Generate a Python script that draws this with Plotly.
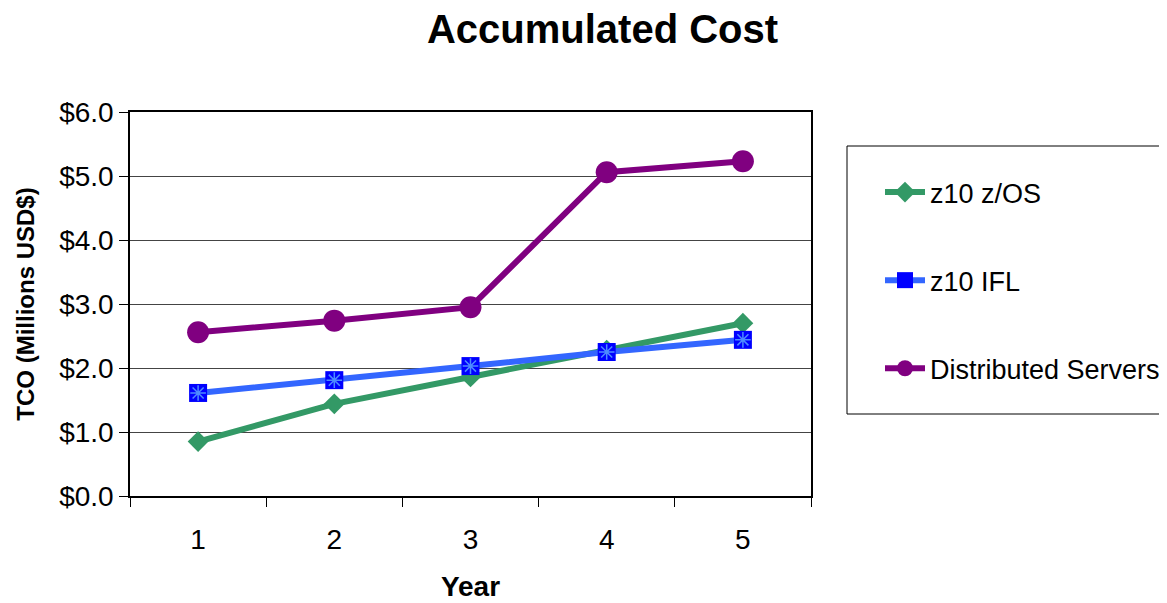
import plotly.graph_objects as go

years = ["1", "2", "3", "4", "5"]
zos = [0.85, 1.44, 1.86, 2.28, 2.70]
ifl = [1.61, 1.81, 2.03, 2.25, 2.44]
dist = [2.56, 2.74, 2.95, 5.06, 5.23]
y_ticks = [0, 1, 2, 3, 4, 5, 6]
y_labels = ["$%.1f" % v for v in y_ticks]

FONT = "Liberation Sans, Arial, sans-serif"
OFF = 8  # page body offset

L, R, T, B = 130, 811, 112, 496
PW, PH = R - L, B - T

fig = go.Figure()
fig.add_trace(go.Scatter(x=years, y=zos, name="z10 z/OS", mode="lines+markers",
                         legendgroup="a",
                         line=dict(color="#339966", width=6),
                         marker=dict(symbol="diamond", size=16, color="#339966")))
fig.add_trace(go.Scatter(x=years, y=ifl, name="z10 IFL", mode="lines+markers",
                         legendgroup="b",
                         line=dict(color="#3366FF", width=6),
                         marker=dict(symbol="square", size=18, color="#0000FF")))
fig.add_trace(go.Scatter(x=years, y=ifl, showlegend=False, mode="markers", hoverinfo="skip",
                         legendgroup="b",
                         marker=dict(symbol="asterisk-open", size=13, color="#4D8BFF",
                                     line=dict(color="#4D8BFF", width=1.5))))
fig.add_trace(go.Scatter(x=years, y=dist, name="Distributed Servers", mode="lines+markers",
                         legendgroup="c",
                         line=dict(color="#800080", width=6),
                         marker=dict(symbol="circle", size=22, color="#800080")))

fig.add_shape(type="rect", xref="paper", yref="paper",
              x0=(847 - L) / PW, x1=(1185 - L) / PW,
              y0=(B - 414) / PH, y1=(B - 146) / PH,
              line=dict(color="black", width=1), fillcolor="white", layer="below")

fig.update_layout(
    width=1167, height=603,
    paper_bgcolor="white", plot_bgcolor="white",
    margin=dict(l=L - OFF, r=1167 - R + OFF, t=T - OFF, b=603 - B + OFF, autoexpand=False),
    title=dict(text="<b>Accumulated Cost</b>", x=((427 + 778) / 2 - OFF) / 1167, xanchor="center",
               y=1 - (29 - OFF) / 603, yanchor="middle",
               font=dict(family=FONT, size=40, color="black")),
    font=dict(family=FONT, color="black"),
    legend=dict(x=(880 - L) / PW, xanchor="left",
                y=(B - 168) / PH, yanchor="top",
                bgcolor="rgba(0,0,0,0)", borderwidth=0,
                font=dict(family=FONT, size=27, color="black"),
                tracegroupgap=50, itemwidth=40),
    showlegend=True,
)
fig.update_xaxes(type="category", range=[-0.5, 4.5], showline=True, linecolor="black", linewidth=1.5,
                 mirror=True, ticks="outside", tickson="boundaries", ticklen=9, tickcolor="black",
                 showgrid=False, tickfont=dict(family=FONT, size=28, color="black"),
                 ticklabelstandoff=18,
                 title=dict(text="<b>Year</b>", font=dict(family=FONT, size=28, color="black"),
                            standoff=22))
fig.update_yaxes(range=[0, 6], tickvals=y_ticks, ticktext=y_labels, showline=True,
                 linecolor="black", linewidth=1.5, mirror=True, ticks="outside", ticklen=9,
                 tickcolor="black", showgrid=True, gridcolor="#444444", gridwidth=1,
                 zeroline=False, tickfont=dict(family=FONT, size=28, color="black"),
                 title=dict(text="<b>TCO (Millions USD$)</b>",
                            font=dict(family=FONT, size=24, color="black"), standoff=18))

fig.write_html("out.html")
